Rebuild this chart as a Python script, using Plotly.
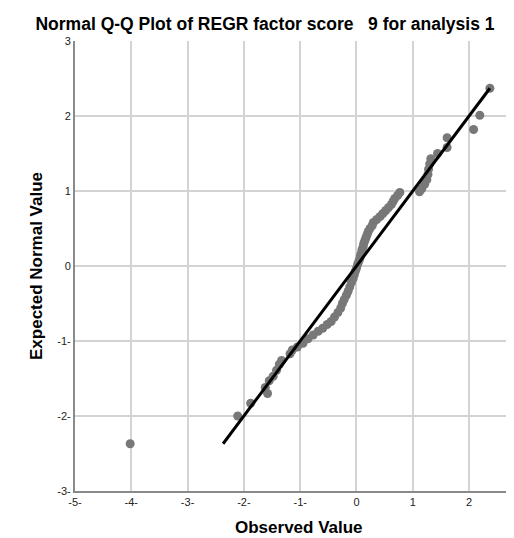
import plotly.graph_objects as go

observed = [
    -4.02, -2.11, -1.88, -1.58, -1.62, -1.55, -1.48, -1.42, -1.37, -1.33,
    -1.18, -1.14, -1.05, -0.95, -0.86, -0.77, -0.68, -0.60, -0.52, -0.45,
    -0.39, -0.33, -0.28, -0.25, -0.22, -0.18, -0.15, -0.12, -0.09, -0.06,
    -0.04, -0.02, 0.00,
    0.02, 0.04, 0.06, 0.07, 0.09, 0.10, 0.12, 0.13, 0.15, 0.17,
    0.19, 0.21, 0.24, 0.28, 0.30, 0.36, 0.42, 0.47, 0.52, 0.57,
    0.62, 0.65, 0.68, 0.73, 0.77,
    1.12, 1.16, 1.21, 1.25, 1.27, 1.28, 1.30, 1.32, 1.44, 1.61,
    1.61, 2.08, 2.19, 2.37,
]
expected = [
    -2.37, -2.00, -1.83, -1.70, -1.62, -1.53, -1.47, -1.39, -1.31, -1.26,
    -1.17, -1.12, -1.08, -1.03, -0.97, -0.92, -0.87, -0.83, -0.78, -0.74,
    -0.68, -0.62, -0.56, -0.50, -0.45, -0.39, -0.34, -0.28, -0.22, -0.17,
    -0.12, -0.07, -0.03,
    0.02, 0.06, 0.10, 0.14, 0.18, 0.22, 0.26, 0.30, 0.34, 0.38,
    0.42, 0.46, 0.50, 0.54, 0.58, 0.62, 0.66, 0.70, 0.74, 0.78,
    0.82, 0.86, 0.90, 0.94, 0.98,
    0.99, 1.03, 1.09, 1.15, 1.22, 1.29, 1.36, 1.43, 1.50, 1.58,
    1.71, 1.82, 2.01, 2.37,
]
# reference line (y = x)
line_x = [-2.37, 2.37]
line_y = [-2.37, 2.37]

x_ticks = [-5, -4, -3, -2, -1, 0, 1, 2]
x_ticktext = ["-5-", "-4-", "-3-", "-2-", "-1-", "0", "1", "2"]
y_ticks = [-3, -2, -1, 0, 1, 2, 3]
y_ticktext = ["-3-", "-2-", "-1-", "0", "1", "2", "3"]
x_min, x_max = -5, 2.94

FONT = "Liberation Sans, Arial, sans-serif"

fig = go.Figure()
fig.add_trace(go.Scatter(
    x=observed, y=expected, mode="markers",
    marker=dict(size=9, color="#787878", line=dict(width=0)),
    hoverinfo="skip", showlegend=False,
))
fig.add_trace(go.Scatter(
    x=line_x, y=line_y, mode="lines",
    line=dict(color="black", width=3),
    hoverinfo="skip", showlegend=False,
))

fig.update_layout(
    width=514, height=538,
    margin=dict(l=67, r=0, t=33, b=55),
    paper_bgcolor="white", plot_bgcolor="white",
    font=dict(family=FONT, color="#222222"),
    title=dict(
        text="Normal Q-Q Plot of REGR factor score\u00a0\u00a0\u00a09 for analysis 1",
        font=dict(family=FONT, size=17.5, color="black", weight="bold"),
        x=0.5, xref="container", xanchor="center",
        y=1 - 16 / 538, yref="container", yanchor="middle",
    ),
    xaxis=dict(
        range=[x_min, x_max], tickmode="array", tickvals=x_ticks, ticktext=x_ticktext,
        showgrid=True, gridcolor="#d3d3d3", gridwidth=1.5,
        showline=True, linecolor="#8a8a8a", linewidth=2,
        zeroline=False, ticks="", tickfont=dict(size=11, color="#222222"),
        fixedrange=True,
    ),
    yaxis=dict(
        range=[-3, 3], tickmode="array", tickvals=y_ticks, ticktext=y_ticktext,
        showgrid=True, gridcolor="#d3d3d3", gridwidth=1.5,
        showline=True, linecolor="#8a8a8a", linewidth=2,
        zeroline=False, ticks="", tickfont=dict(size=11, color="#222222"),
        fixedrange=True,
    ),
    annotations=[
        dict(text="Observed Value", xref="paper", yref="paper",
             x=0.5, y=-0.082, xanchor="center", yanchor="middle",
             showarrow=False, font=dict(family=FONT, size=17, color="black", weight="bold")),
        dict(text="Expected Normal Value", xref="paper", yref="paper",
             x=(28 - 67) / 447, y=0.5, xanchor="center", yanchor="middle",
             textangle=-90, showarrow=False,
             font=dict(family=FONT, size=17, color="black", weight="bold")),
        dict(text="3", xref="paper", yref="paper",
             x=(3 - x_min) / (x_max - x_min), y=0, xanchor="center",
             yanchor="top", yshift=-1, showarrow=False,
             font=dict(family=FONT, size=11, color="#222222")),
    ],
)

fig.write_html("out.html")
